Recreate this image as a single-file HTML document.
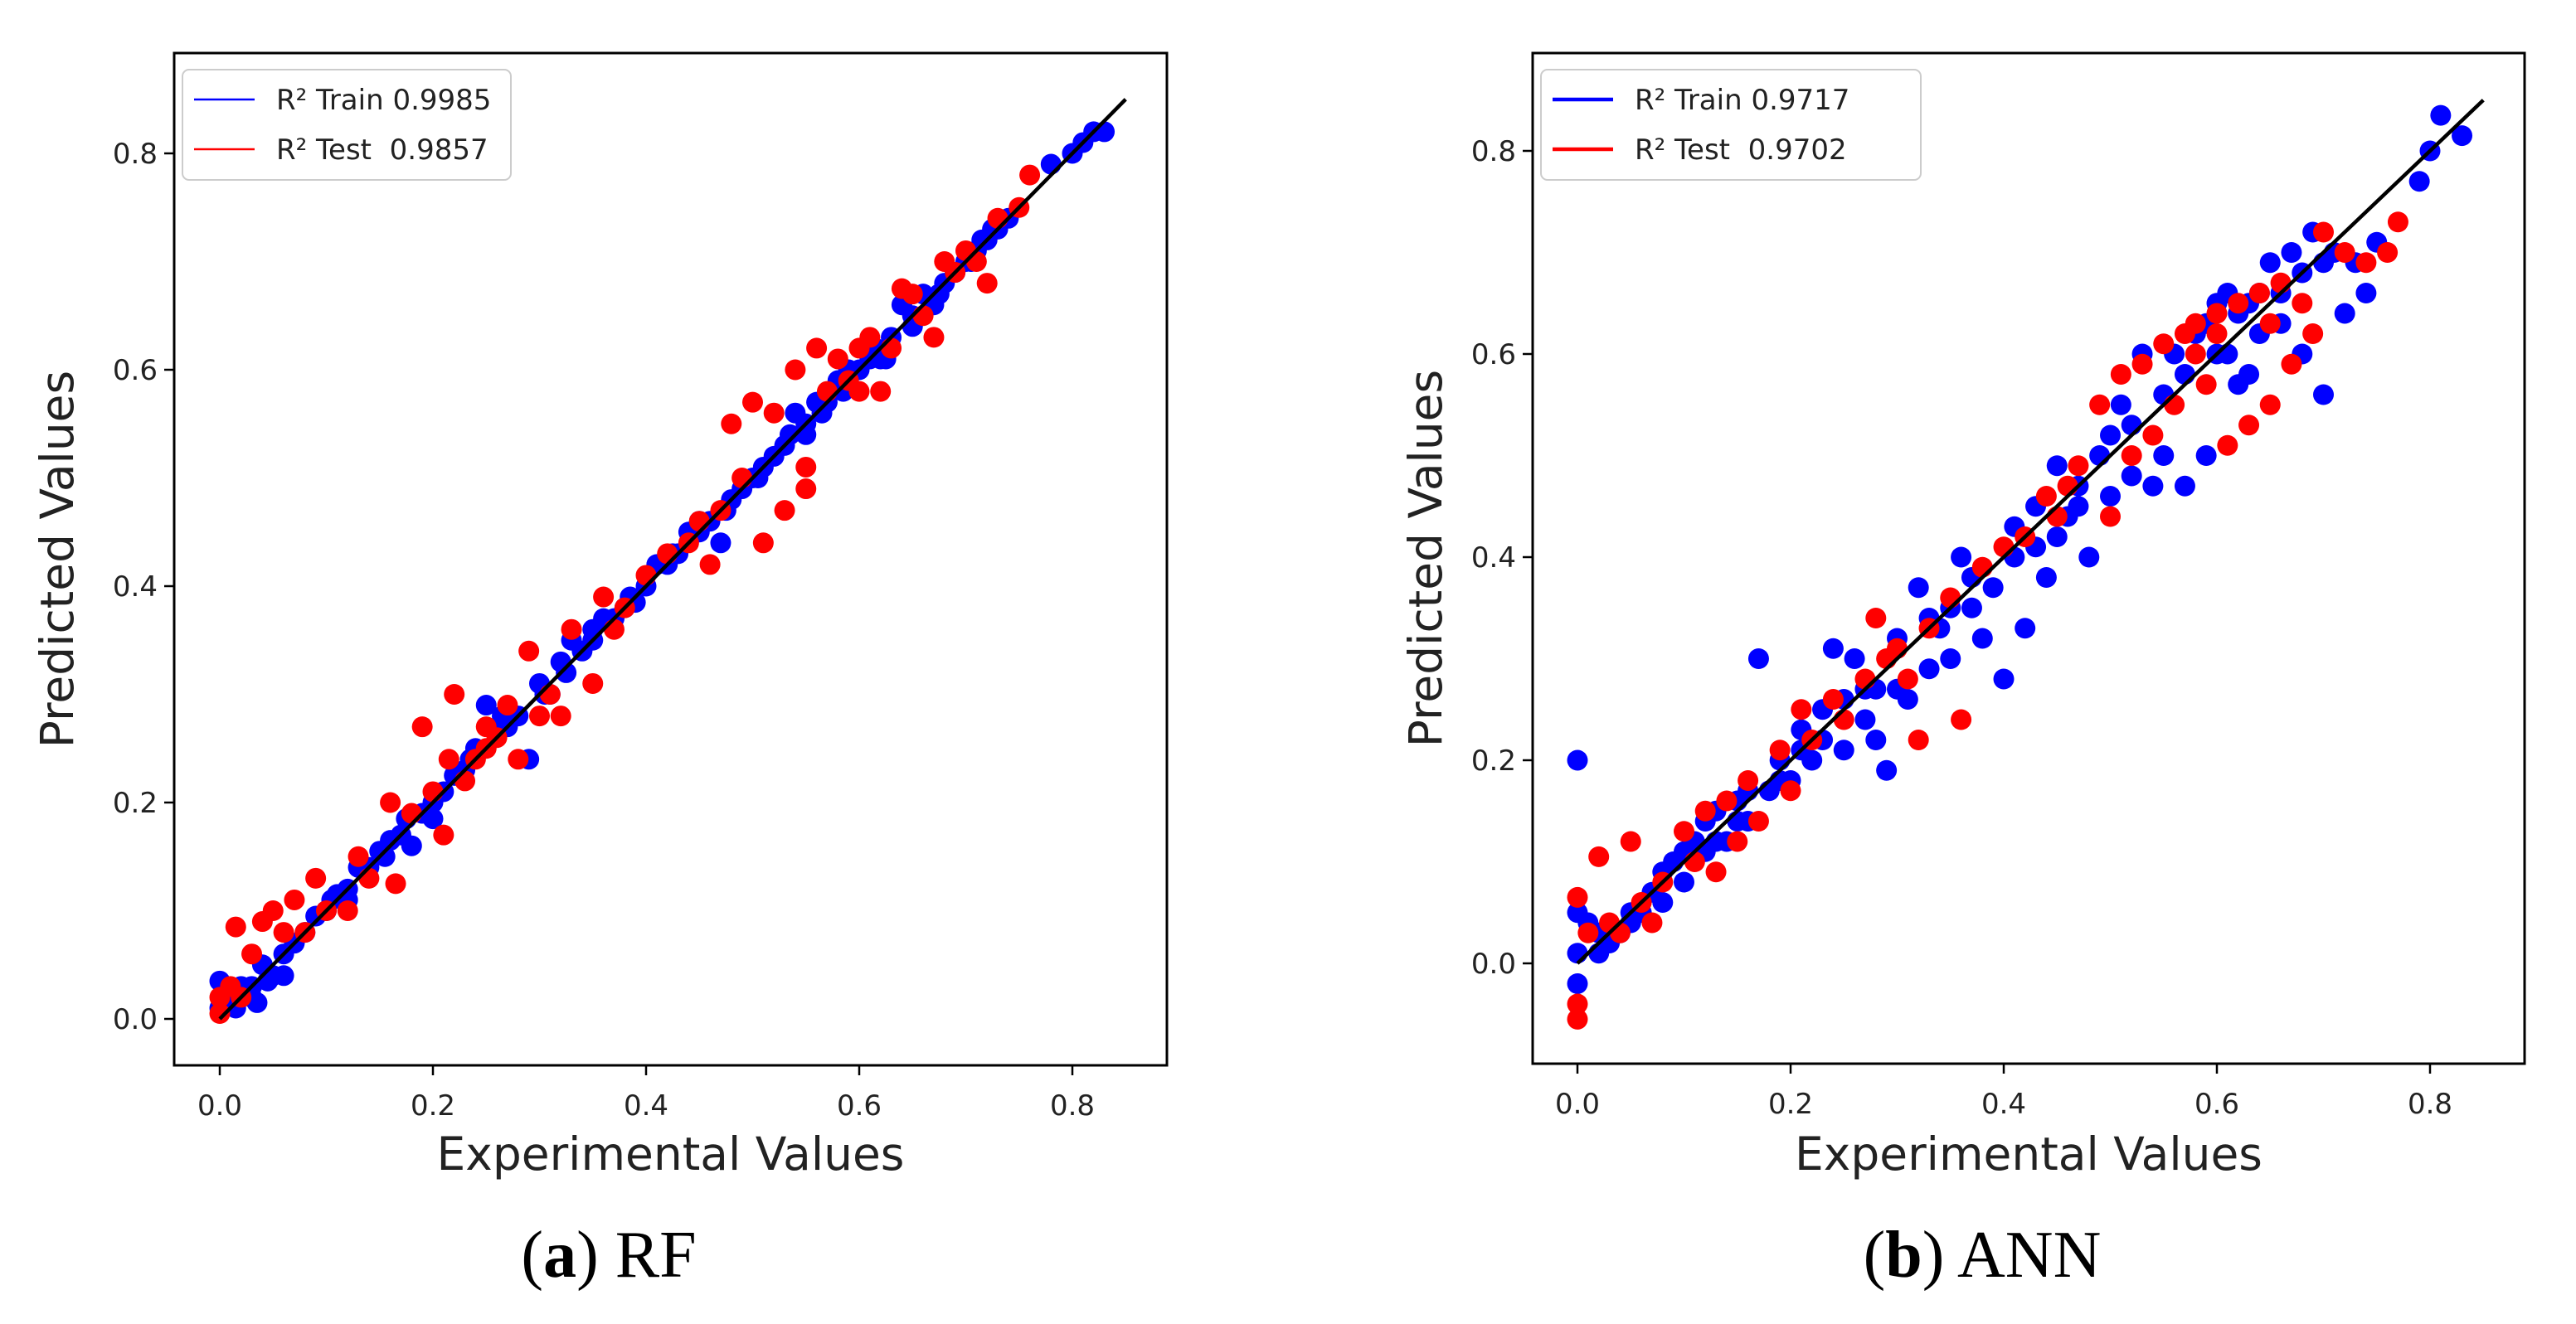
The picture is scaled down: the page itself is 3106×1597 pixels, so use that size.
<!DOCTYPE html>
<html><head><meta charset="utf-8">
<style>
html,body{margin:0;padding:0;background:#fff;}
svg{display:block;font-family:"DejaVu Sans","Liberation Sans",sans-serif;}
</style></head>
<body>
<svg id="fig" width="3106" height="1597" viewBox="0 0 3106 1597" xmlns="http://www.w3.org/2000/svg">
<rect width="3106" height="1597" fill="#fff"/>
</svg>
<script>
const rfTrain=[[0,0.01],[0,0.035],[0.01,0.02],[0.02,0.03],[0.03,0.02],[0.035,0.015],[0.04,0.05],[0.05,0.04],[0.06,0.04],[0.07,0.07],[0.08,0.08],[0.09,0.095],[0.1,0.1],[0.11,0.115],[0.12,0.12],[0.13,0.14],[0.14,0.14],[0.15,0.155],[0.16,0.165],[0.17,0.17],[0.18,0.16],[0.19,0.19],[0.2,0.2],[0.21,0.21],[0.22,0.225],[0.23,0.23],[0.24,0.25],[0.25,0.29],[0.26,0.265],[0.27,0.27],[0.28,0.28],[0.29,0.24],[0.3,0.31],[0.31,0.3],[0.32,0.33],[0.33,0.35],[0.34,0.34],[0.35,0.35],[0.36,0.37],[0.37,0.37],[0.38,0.38],[0.39,0.385],[0.4,0.4],[0.41,0.42],[0.42,0.42],[0.43,0.43],[0.44,0.45],[0.45,0.45],[0.46,0.46],[0.47,0.44],[0.48,0.48],[0.49,0.49],[0.5,0.5],[0.51,0.51],[0.52,0.52],[0.53,0.53],[0.54,0.56],[0.55,0.55],[0.56,0.57],[0.57,0.57],[0.58,0.59],[0.59,0.6],[0.6,0.6],[0.61,0.61],[0.62,0.61],[0.63,0.63],[0.64,0.66],[0.65,0.65],[0.66,0.67],[0.67,0.66],[0.68,0.68],[0.69,0.69],[0.7,0.7],[0.71,0.71],[0.72,0.72],[0.73,0.73],[0.74,0.74],[0.78,0.79],[0.8,0.8],[0.81,0.81],[0.82,0.82],[0.83,0.82],[0.12,0.11],[0.2,0.185],[0.35,0.36],[0.45,0.46],[0.55,0.54],[0.65,0.64],[0.03,0.03],[0.06,0.06],[0.015,0.01],[0.045,0.035],[0.105,0.11],[0.155,0.15],[0.175,0.185],[0.235,0.24],[0.265,0.28],[0.305,0.3],[0.325,0.32],[0.385,0.39],[0.425,0.43],[0.475,0.47],[0.505,0.5],[0.535,0.54],[0.565,0.56],[0.585,0.58],[0.615,0.62],[0.625,0.61],[0.675,0.67],[0.705,0.7],[0.715,0.72],[0.725,0.73]];
const rfTest=[[0,0.005],[0,0.02],[0.01,0.03],[0.015,0.085],[0.02,0.02],[0.03,0.06],[0.04,0.09],[0.05,0.1],[0.06,0.08],[0.07,0.11],[0.08,0.08],[0.09,0.13],[0.1,0.1],[0.12,0.1],[0.13,0.15],[0.14,0.13],[0.16,0.2],[0.165,0.125],[0.18,0.19],[0.19,0.27],[0.2,0.21],[0.21,0.17],[0.215,0.24],[0.22,0.3],[0.23,0.22],[0.24,0.24],[0.25,0.25],[0.26,0.26],[0.27,0.29],[0.28,0.24],[0.29,0.34],[0.3,0.28],[0.31,0.3],[0.32,0.28],[0.33,0.36],[0.35,0.31],[0.36,0.39],[0.37,0.36],[0.4,0.41],[0.42,0.43],[0.44,0.44],[0.46,0.42],[0.47,0.47],[0.48,0.55],[0.49,0.5],[0.5,0.57],[0.51,0.44],[0.52,0.56],[0.53,0.47],[0.54,0.6],[0.55,0.49],[0.56,0.62],[0.57,0.58],[0.58,0.61],[0.59,0.59],[0.6,0.62],[0.61,0.63],[0.62,0.58],[0.63,0.62],[0.64,0.675],[0.65,0.67],[0.66,0.65],[0.67,0.63],[0.68,0.7],[0.69,0.69],[0.7,0.71],[0.71,0.7],[0.72,0.68],[0.73,0.74],[0.75,0.75],[0.76,0.78],[0.6,0.58],[0.55,0.51],[0.45,0.46],[0.38,0.38],[0.25,0.27]];
const annTrain=[[0,0.2],[0,-0.02],[0,0.01],[0,0.05],[0.01,0.04],[0.02,0.01],[0.03,0.02],[0.04,0.03],[0.05,0.04],[0.06,0.05],[0.07,0.07],[0.08,0.06],[0.09,0.1],[0.1,0.08],[0.11,0.12],[0.12,0.11],[0.13,0.15],[0.14,0.12],[0.15,0.16],[0.16,0.14],[0.17,0.3],[0.18,0.17],[0.19,0.2],[0.2,0.18],[0.21,0.23],[0.22,0.2],[0.23,0.25],[0.24,0.31],[0.25,0.21],[0.26,0.3],[0.27,0.24],[0.28,0.27],[0.29,0.19],[0.3,0.32],[0.31,0.26],[0.32,0.37],[0.33,0.29],[0.34,0.33],[0.35,0.3],[0.36,0.4],[0.37,0.35],[0.38,0.32],[0.39,0.37],[0.4,0.28],[0.41,0.43],[0.42,0.33],[0.43,0.41],[0.44,0.38],[0.45,0.49],[0.46,0.44],[0.47,0.47],[0.48,0.4],[0.49,0.5],[0.5,0.46],[0.51,0.55],[0.52,0.48],[0.53,0.6],[0.54,0.47],[0.55,0.5],[0.56,0.6],[0.57,0.47],[0.58,0.62],[0.59,0.5],[0.6,0.65],[0.61,0.6],[0.62,0.64],[0.63,0.58],[0.64,0.66],[0.65,0.69],[0.66,0.63],[0.67,0.7],[0.68,0.6],[0.69,0.72],[0.7,0.56],[0.71,0.7],[0.72,0.64],[0.73,0.69],[0.74,0.66],[0.75,0.71],[0.79,0.77],[0.8,0.8],[0.81,0.835],[0.83,0.815],[0.6,0.6],[0.62,0.57],[0.64,0.62],[0.5,0.52],[0.35,0.35],[0.45,0.42],[0.15,0.14],[0.12,0.14],[0.25,0.26],[0.3,0.27],[0.28,0.22],[0.02,0.03],[0.05,0.05],[0.08,0.09],[0.1,0.11],[0.13,0.12],[0.16,0.17],[0.19,0.18],[0.21,0.21],[0.23,0.22],[0.27,0.27],[0.33,0.34],[0.37,0.38],[0.41,0.4],[0.43,0.45],[0.47,0.45],[0.52,0.53],[0.55,0.56],[0.57,0.58],[0.59,0.63],[0.61,0.66],[0.63,0.65],[0.66,0.66],[0.68,0.68],[0.7,0.69]];
const annTest=[[0,-0.055],[0,-0.04],[0,0.065],[0.01,0.03],[0.02,0.105],[0.03,0.04],[0.04,0.03],[0.05,0.12],[0.06,0.06],[0.07,0.04],[0.08,0.08],[0.1,0.13],[0.11,0.1],[0.12,0.15],[0.13,0.09],[0.14,0.16],[0.15,0.12],[0.16,0.18],[0.17,0.14],[0.19,0.21],[0.2,0.17],[0.21,0.25],[0.22,0.22],[0.24,0.26],[0.25,0.24],[0.27,0.28],[0.28,0.34],[0.29,0.3],[0.31,0.28],[0.32,0.22],[0.33,0.33],[0.35,0.36],[0.36,0.24],[0.38,0.39],[0.4,0.41],[0.42,0.42],[0.44,0.46],[0.46,0.47],[0.47,0.49],[0.49,0.55],[0.5,0.44],[0.51,0.58],[0.52,0.5],[0.53,0.59],[0.54,0.52],[0.55,0.61],[0.56,0.55],[0.57,0.62],[0.58,0.63],[0.59,0.57],[0.6,0.64],[0.61,0.51],[0.62,0.65],[0.63,0.53],[0.64,0.66],[0.65,0.55],[0.66,0.67],[0.67,0.59],[0.68,0.65],[0.69,0.62],[0.7,0.72],[0.72,0.7],[0.74,0.69],[0.76,0.7],[0.77,0.73],[0.6,0.62],[0.65,0.63],[0.58,0.6],[0.45,0.44],[0.3,0.31]];
const xTicks=[0,0.2,0.4,0.6,0.8];
const yTicks=[0,0.2,0.4,0.6,0.8];
const tickLabels=["0.0","0.2","0.4","0.6","0.8"];
const rfLegend=["R² Train 0.9985","R² Test  0.9857"];
const annLegend=["R² Train 0.9717","R² Test  0.9702"];
const diag=[0,0.85];

const NS="http://www.w3.org/2000/svg";
const svg=document.getElementById('fig');
function mk(tag,attrs,parent){const e=document.createElementNS(NS,tag);for(const k in attrs)e.setAttribute(k,attrs[k]);(parent||svg).appendChild(e);return e;}

function panel(cfg){
  const g=mk('g',{});
  
  
  const sx=v=>cfg.x0+v*cfg.xs, sy=v=>cfg.y0-v*cfg.ys;
  const L=cfg.left,R=cfg.right,T=cfg.top,B=cfg.bottom;
  const pts=mk('g',{},g);
  
  
  cfg.train.forEach(p=>{const c=mk('circle',{cx:sx(p[0]),cy:sy(p[1]),r:12.5,fill:'#0000ff'},pts);
    
    });
  const pts2=mk('g',{},g);
  
  
  cfg.test.forEach(p=>{const c=mk('circle',{cx:sx(p[0]),cy:sy(p[1]),r:12.5,fill:'#ff0000'},pts2);
    
    });
  const ln=mk('line',{x1:sx(diag[0]),y1:sy(diag[0]),x2:sx(diag[1]),y2:sy(diag[1]),stroke:'#000','stroke-width':4.5},g);
  
  
  const fr=mk('rect',{x:L,y:T,width:R-L,height:B-T,fill:'none',stroke:'#000','stroke-width':3},g);
  
  
  xTicks.forEach((v,i)=>{mk('line',{x1:sx(v),x2:sx(v),y1:B,y2:B+12,stroke:'#000','stroke-width':2.5},g);
    const t=mk('text',{x:sx(v),y:B+60,'font-size':34,'text-anchor':'middle',fill:'#222'},g);t.textContent=tickLabels[i];
    
    });
  yTicks.forEach((v,i)=>{mk('line',{x1:L-12,x2:L,y1:sy(v),y2:sy(v),stroke:'#000','stroke-width':2.5},g);
    const t=mk('text',{x:L-20,y:sy(v)+12,'font-size':34,'text-anchor':'end',fill:'#222'},g);t.textContent=tickLabels[i];
    
    });
  const xl=mk('text',{x:(L+R)/2,y:1411,'font-size':55,'text-anchor':'middle',fill:'#222'},g);xl.textContent='Experimental Values';
  
  
  const yl=mk('text',{x:0,y:0,'font-size':55,'text-anchor':'middle',fill:'#222',transform:`translate(${cfg.ylx},${(T+B)/2}) rotate(-90)`},g);yl.textContent='Predicted Values';
  
  
  const lg=mk('g',{},g);
  
  
  mk('rect',{x:L+10,y:T+20,width:cfg.legW,height:133,rx:8,fill:'#fff',stroke:'#ccc','stroke-width':2},lg);
  ['#0000ff','#ff0000'].forEach((c,i)=>{
    mk('line',{x1:L+24,x2:L+97,y1:T+56+i*60,y2:T+56+i*60,stroke:c,'stroke-width':cfg.lw},lg);
    const t=mk('text',{x:L+123,y:T+68+i*60,'font-size':34,fill:'#222','xml:space':'preserve'},lg);t.textContent=cfg.legend[i];
    t.style.whiteSpace='pre';
    
    
  });
  const cap=mk('text',{x:cfg.capx,y:1540,'font-size':80,'text-anchor':'middle',fill:'#000','font-family':'"Liberation Serif",serif'},g);
  cap.innerHTML='(<tspan font-weight="bold">'+cfg.capL+'</tspan>) '+cfg.capT;
  
  
}
panel({id:'rf',train:rfTrain,test:rfTest,legend:rfLegend,x0:265,xs:1285,y0:1229,ys:1305,left:210,right:1407,top:64,bottom:1285,ylx:88,legW:396,lw:2.5,capx:734,capL:'a',capT:'RF'});
panel({id:'ann',train:annTrain,test:annTest,legend:annLegend,x0:1902,xs:1285,y0:1162,ys:1225,left:1848,right:3044,top:64,bottom:1283,ylx:1738,legW:458,lw:4.5,capx:2390,capL:'b',capT:'ANN'});
</script>
</body></html>
